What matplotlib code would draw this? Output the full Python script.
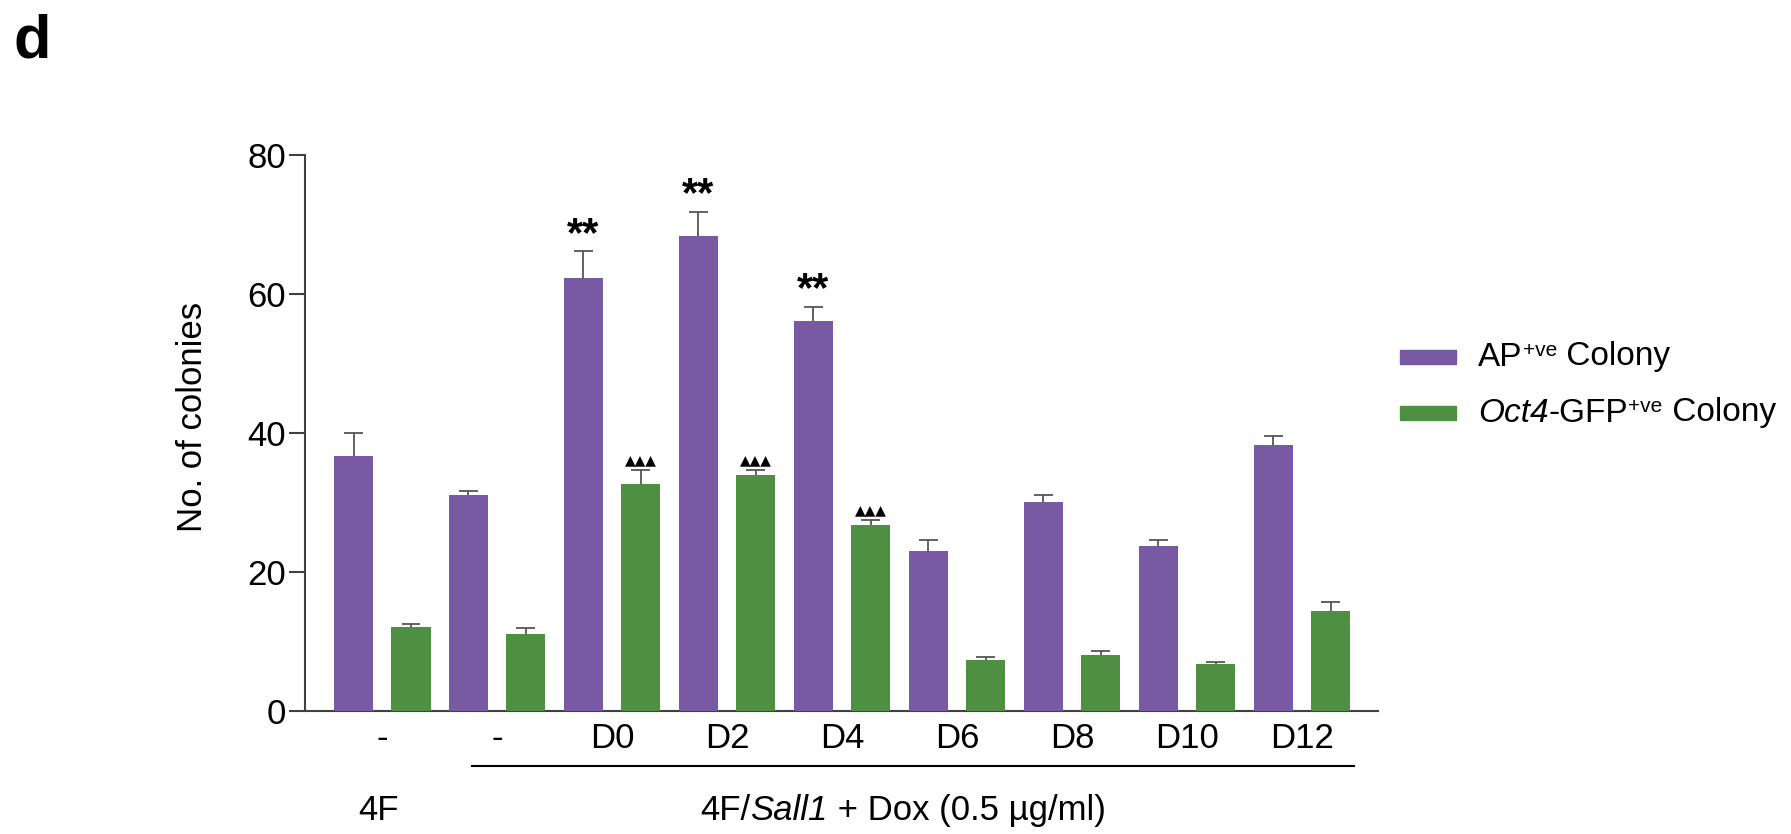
import numpy as np
import matplotlib
matplotlib.use('Agg')
import matplotlib.pyplot as plt
from matplotlib.patches import Rectangle
from matplotlib.offsetbox import TextArea, HPacker, DrawingArea, AnchoredOffsetbox

plt.rcParams['font.family'] = ['Liberation Sans', 'DejaVu Sans']

# data
groups = ['-', '-', 'D0', 'D2', 'D4', 'D6', 'D8', 'D10', 'D12']
ap_mean = [36.6, 31.0, 62.2, 68.3, 56.1, 23.0, 30.0, 23.7, 38.2]
ap_err = [3.4, 0.6, 3.9, 3.5, 2.0, 1.5, 1.1, 0.8, 1.4]
gfp_mean = [12.0, 11.0, 32.6, 33.9, 26.7, 7.3, 8.0, 6.7, 14.3]
gfp_err = [0.5, 0.9, 2.1, 0.7, 0.8, 0.4, 0.6, 0.3, 1.4]
ap_marks = ['', '', '**', '**', '**', '', '', '', '']
gfp_marks = ['', '', '▲▲▲', '▲▲▲', '▲▲▲', '', '', '', '']

purple = '#7859A4'
green = '#4F8F41'
axis_col = '#404040'
fs = 25

fig = plt.figure(figsize=(17.91, 8.34), dpi=100)
ax = fig.add_axes([0.1703, 0.1478, 0.5993, 0.6667])

idx = np.arange(len(groups))
x_ap = 2 * idx
x_gfp = 2 * idx + 1
width = 0.68
cap = 0.165

ax.bar(x_ap, ap_mean, width=width, color=purple, zorder=3)
ax.bar(x_gfp, gfp_mean, width=width, color=green, zorder=3)

# one-sided error bars (upper only)
for xs, m, e in [(x_ap, ap_mean, ap_err), (x_gfp, gfp_mean, gfp_err)]:
    m = np.array(m)
    e = np.array(e)
    ax.vlines(xs, m, m + e, color='#555555', lw=1.3, zorder=2)
    ax.hlines(m + e, xs - cap, xs + cap, color='#555555', lw=1.3, zorder=2)

# significance marks
for x, m, e, s in zip(x_ap, ap_mean, ap_err, ap_marks):
    if s:
        ax.annotate(s, (x, m + e), xytext=(0, 4), textcoords='offset points',
                    ha='center', va='baseline', fontsize=30, fontweight='bold')
for x, m, e, s in zip(x_gfp, gfp_mean, gfp_err, gfp_marks):
    if s:
        ax.annotate(s, (x, m + e), xytext=(0, 4), textcoords='offset points',
                    ha='center', va='baseline', fontsize=10,
                    family=['DejaVu Sans'])

ax.set_xlim(-0.844, 17.83)
ax.set_ylim(0, 80)
ax.set_yticks([0, 20, 40, 60, 80])
ax.set_xticks(2 * idx + 0.5)
ax.set_xticklabels(groups)

for side in ['top', 'right']:
    ax.spines[side].set_visible(False)
for side in ['left', 'bottom']:
    ax.spines[side].set_color(axis_col)
    ax.spines[side].set_linewidth(1.5)

ax.tick_params(axis='y', length=11.5, width=1.5, color=axis_col, labelsize=fs, pad=2)
ax.tick_params(axis='x', length=0, labelsize=fs, pad=8)

ax.set_ylabel('No. of colonies', fontsize=fs)
ax.yaxis.set_label_coords(-0.089, 0.528)

# group labels under the x axis
trans = ax.get_xaxis_transform()
ax.plot([2.06, 17.41], [-0.0995, -0.0995], transform=trans, clip_on=False,
        color='black', lw=1.5)
ax.text(0.43, -0.180, '4F', transform=trans, ha='center', va='center', fontsize=fs)


def txt(s, size=fs, **kw):
    return TextArea(s, textprops=dict(fontsize=size, **kw))


grp = HPacker(children=[txt('4F/'), txt('Sall1', style='italic'),
                        txt(' + Dox (0.5 µg/ml)')], align='baseline', pad=0, sep=0)
ax.add_artist(AnchoredOffsetbox(loc='center', child=grp, pad=0, borderpad=0,
                                frameon=False, bbox_to_anchor=(9.56, -0.180),
                                bbox_transform=trans))

# legend built from pieces (italic gene name + superscript)
leg_fs = 24
rows = [
    (purple, [txt('AP', leg_fs), txt('+ve', 15), txt(' Colony', leg_fs)]),
    (green, [txt('Oct4', leg_fs, style='italic'), txt('-GFP', leg_fs),
             txt('+ve', 15), txt(' Colony', leg_fs)]),
]
row_y = [357, 413]
for (col, pieces), yy in zip(rows, row_y):
    da = DrawingArea(40.3, 10.1, 0, 0)
    da.add_artist(Rectangle((0, 0), 40.3, 10.1, color=col))
    label = HPacker(children=pieces, align='top', pad=0, sep=0)
    row = HPacker(children=[da, label], align='center', pad=0, sep=16)
    fig.add_artist(AnchoredOffsetbox(loc='center left', child=row, pad=0, borderpad=0,
                                     frameon=False,
                                     bbox_to_anchor=(1400 / 1791, 1 - yy / 834),
                                     bbox_transform=fig.transFigure))

fig.text(14 / 1791, 1 - 13 / 834, 'd', ha='left', va='top', fontsize=44, fontweight='bold')

fig.savefig('out.png', dpi=100)
